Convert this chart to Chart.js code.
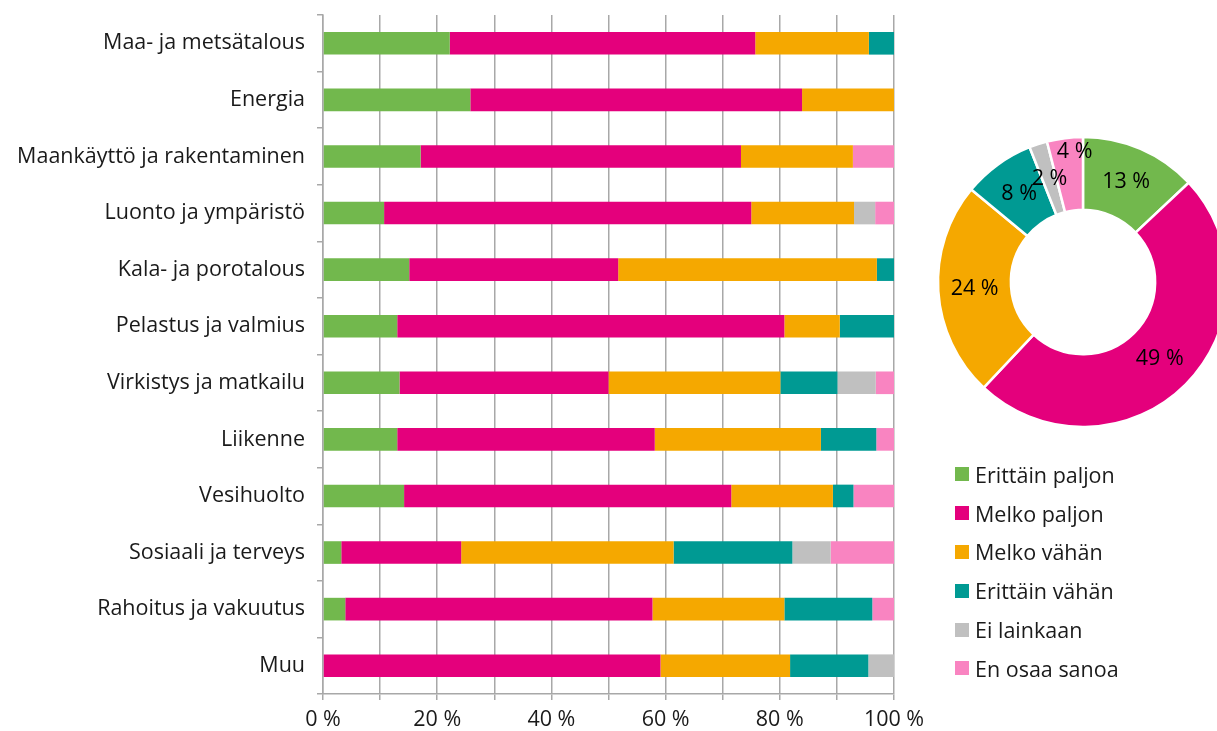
<!DOCTYPE html>
<html>
<head>
<meta charset="utf-8">
<script src="https://cdn.jsdelivr.net/npm/chart.js@4"></script>
<style>
  html, body { margin: 0; padding: 0; background: #fff; overflow: hidden; }
  #wrap { position: relative; width: 1217px; height: 731px; }
  #bar { position: absolute; left: 0; top: 0; }
  #donut { position: absolute; left: 933px; top: 132px; }
  #legend { position: absolute; left: 955px; top: 455px; font-family: "Open Sans", sans-serif; font-size: 21.5px; color: #1a1a1a; }
  #legend div { height: 38.8px; display: flex; align-items: center; }
  #legend span.box { display: inline-block; width: 14px; height: 14px; margin-right: 6px; }
</style>
</head>
<body>
<div id="wrap">
  <canvas id="bar" width="1217" height="731"></canvas>
  <canvas id="donut" width="300" height="300"></canvas>
  <div id="legend"></div>
</div>
<script>
const categories = [
  'Maa- ja metsätalous', 'Energia', 'Maankäyttö ja rakentaminen', 'Luonto ja ympäristö',
  'Kala- ja porotalous', 'Pelastus ja valmius', 'Virkistys ja matkailu', 'Liikenne',
  'Vesihuolto', 'Sosiaali ja terveys', 'Rahoitus ja vakuutus', 'Muu'
];
const seriesNames = ['Erittäin paljon', 'Melko paljon', 'Melko vähän', 'Erittäin vähän', 'Ei lainkaan', 'En osaa sanoa'];
const colors = ['#72b84d', '#e4007c', '#f5a800', '#009a93', '#c0c0c0', '#f984c1'];

// % per category, one array per answer
const erittainPaljon = [22.2, 25.8, 17.1, 10.7, 15.1, 13.0, 13.4, 13.0, 14.2, 3.2, 3.9, 0];
const melkoPaljon    = [53.5, 58.1, 56.1, 64.3, 36.6, 67.8, 36.6, 45.1, 57.3, 21.0, 53.8, 59.1];
const melkoVahan     = [19.9, 16.1, 19.6, 18.0, 45.3, 9.7, 30.1, 29.1, 17.8, 37.2, 23.1, 22.7];
const erittainVahan  = [4.4, 0, 0, 0, 3.0, 9.5, 10.0, 9.7, 3.6, 20.8, 15.4, 13.7];
const eiLainkaan     = [0, 0, 0, 3.7, 0, 0, 6.7, 0, 0, 6.7, 0, 4.5];
const enOsaa         = [0, 0, 7.2, 3.3, 0, 0, 3.2, 3.1, 7.1, 11.1, 3.8, 0];

// kaikki yhteensä (donitsi)
const totals = [13, 49, 24, 8, 2, 4];

const xTicks = [0, 20, 40, 60, 80, 100];

const FONT = '"Open Sans", sans-serif';
const FSIZE = 21.5;
const TEXT = '#1a1a1a';
const GRID = '#a8a8a8';

const seriesData = [erittainPaljon, melkoPaljon, melkoVahan, erittainVahan, eiLainkaan, enOsaa];

new Chart(document.getElementById('bar'), {
  type: 'bar',
  data: {
    labels: categories,
    datasets: seriesData.map((d, i) => ({
      label: seriesNames[i],
      data: d,
      backgroundColor: colors[i],
      borderWidth: 0,
      barPercentage: 0.4,
      categoryPercentage: 1
    }))
  },
  options: {
    responsive: false,
    devicePixelRatio: 1,
    animation: false,
    indexAxis: 'y',
    layout: { padding: { top: 15, right: 323, left: 0, bottom: 0 } },
    plugins: { legend: { display: false }, tooltip: { enabled: false } },
    scales: {
      x: {
        stacked: true,
        min: 0, max: 100,
        afterFit: s => { s.height = 37; },
        ticks: {
          stepSize: 10,
          autoSkip: false,
          maxRotation: 0,
          padding: 7,
          color: TEXT,
          font: { family: FONT, size: FSIZE },
          callback: v => xTicks.includes(v) ? v + ' %' : ''
        },
        grid: { color: GRID, lineWidth: 1.5, tickLength: 6 },
        border: { color: GRID, width: 1.5 }
      },
      y: {
        stacked: true,
        afterFit: s => { s.width = 323; s.paddingTop = 0; s.paddingBottom = 0; },
        ticks: { color: TEXT, padding: 12, font: { family: FONT, size: FSIZE } },
        grid: { drawOnChartArea: false, offset: true, color: GRID, lineWidth: 1.5, tickLength: 6 },
        border: { color: GRID, width: 1.5 }
      }
    }
  }
});

// prosenttiluvut donitsin sisään
const donutLabels = {
  id: 'donutLabels',
  afterDatasetsDraw(chart) {
    const ctx = chart.ctx;
    const arcs = chart.getDatasetMeta(0).data;
    const vals = chart.data.datasets[0].data;
    ctx.save();
    ctx.fillStyle = '#000';
    ctx.font = FSIZE + 'px ' + FONT;
    ctx.textAlign = 'center';
    ctx.textBaseline = 'middle';
    arcs.forEach((a, i) => {
      const p = a.getProps(['x', 'y', 'startAngle', 'endAngle', 'innerRadius', 'outerRadius']);
      const mid = (p.startAngle + p.endAngle) / 2;
      let r = (p.innerRadius + p.outerRadius) / 2;
      const crowded = vals[i] < 5 && i > 0 && vals[i - 1] < 5;
      // pienet vierekkäiset siivut: työnnä ulommas
      if (crowded) r = p.outerRadius - 14;
      let x = p.x + Math.cos(mid) * r;
      if (crowded) x += 8;
      ctx.fillText(vals[i] + ' %', x, p.y + Math.sin(mid) * r);
    });
    ctx.restore();
  }
};

new Chart(document.getElementById('donut'), {
  type: 'doughnut',
  data: {
    labels: seriesNames,
    datasets: [{
      data: totals,
      backgroundColor: colors,
      borderColor: '#fff',
      borderWidth: 2.5,
      hoverOffset: 0
    }]
  },
  options: {
    responsive: false,
    devicePixelRatio: 1,
    animation: false,
    radius: 145,
    cutout: 74,
    plugins: { legend: { display: false }, tooltip: { enabled: false } }
  },
  plugins: [donutLabels]
});

// selite
const legend = document.getElementById('legend');
seriesNames.forEach((n, i) => {
  const row = document.createElement('div');
  row.innerHTML = `<span class="box" style="background:${colors[i]}"></span>${n}`;
  legend.appendChild(row);
});
</script>
</body>
</html>
